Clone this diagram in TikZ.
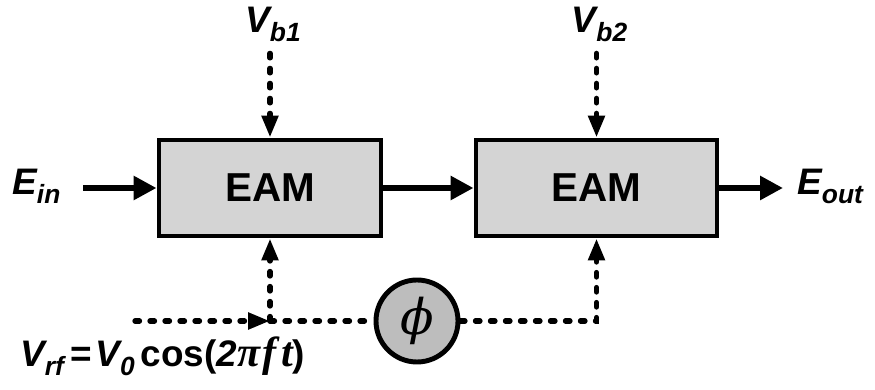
\documentclass[tikz,border=0pt]{standalone}
\usepackage{fontspec}
\setmainfont{Liberation Sans}
\newfontfamily\greekfont{Liberation Serif}
\newfontfamily\phifont{DejaVu Serif}
\usetikzlibrary{arrows.meta, positioning}
\definecolor{boxgray}{gray}{0.83}
\definecolor{phasegray}{gray}{0.74}
\newcommand{\lowsub}[1]{\raisebox{-0.45ex}{\fontsize{15pt}{15pt}\selectfont #1}}

\begin{document}
\begin{tikzpicture}[
        eam box/.style={draw, line width=2.8pt, fill=boxgray, minimum height=1.92cm, font=\fontsize{23pt}{23pt}\selectfont\bfseries},
        phase node/.style={circle, draw, line width=2.8pt, fill=phasegray, minimum size=1.64cm, inner sep=0pt, font=\fontsize{28pt}{28pt}\selectfont\phifont\itshape},
        sig label/.style={font=\fontsize{21pt}{21pt}\selectfont\bfseries\itshape, inner sep=0pt},
        optical/.style={line width=3.4pt, -{Triangle[length=0.46cm,width=0.46cm]}},
        rf line/.style={line width=3pt, line cap=round, dash pattern=on 0.09cm off 0.21cm},
        rf arrow/.style={rf line, -{Triangle[length=0.44cm,width=0.32cm]}},
    ]

    % Canvas
    \useasboundingbox (0,0) rectangle (17.5,7.8);

    % Modulators
    \node[eam box, minimum width=4.44cm] (eam1) at (5.40,4.04) {EAM};
    \node[eam box, minimum width=4.82cm] (eam2) at (11.93,4.04) {EAM};

    % Phase shifter
    \node[phase node] (phase) at (8.34,1.38) {ϕ};

    % Labels
    \node[sig label, anchor=base west] (ein) at (0.24,3.9) {E\lowsub{in}};
    \node[sig label, anchor=base west] (eout) at (15.94,3.9) {E\lowsub{out}};
    \node[sig label, anchor=base] (vb1) at (5.46,7.14) {V\lowsub{b1}};
    \node[sig label, anchor=base] (vb2) at (11.99,7.14) {V\lowsub{b2}};
    \node[sig label, anchor=base west] (vrf) at (0.4,0.46)
        {V\lowsub{rf}\hspace{0.12cm}{\upshape=}\hspace{0.08cm}V\lowsub{0}\hspace{0.12cm}{\upshape cos(}2{\fontsize{24pt}{24pt}\selectfont\greekfont π\kern0.06em f\kern0.1em t}{\upshape)}};

    % Optical path
    \draw[optical, shorten <=0.45cm] (ein.east |- eam1) -- (eam1);
    \draw[optical] (eam1) -- (eam2);
    \draw[optical, shorten >=0.28cm] (eam2) -- (eout.west |- eam2);

    % Bias inputs
    \draw[rf arrow, shorten <=0.22cm] (vb1.south -| eam1) -- (eam1);
    \draw[rf arrow, shorten <=0.22cm] (vb2.south -| eam2) -- (eam2);

    % RF drive
    \coordinate (rfin) at (2.70,1.38);
    \coordinate (tap) at (5.40,1.38);
    \draw[rf arrow] (rfin) -- (tap);
    \draw[rf arrow] (tap) -- (eam1);
    \draw[rf line] (tap) -- (phase);
    \draw[rf arrow] (phase) -| (eam2);

\end{tikzpicture}
\end{document}
